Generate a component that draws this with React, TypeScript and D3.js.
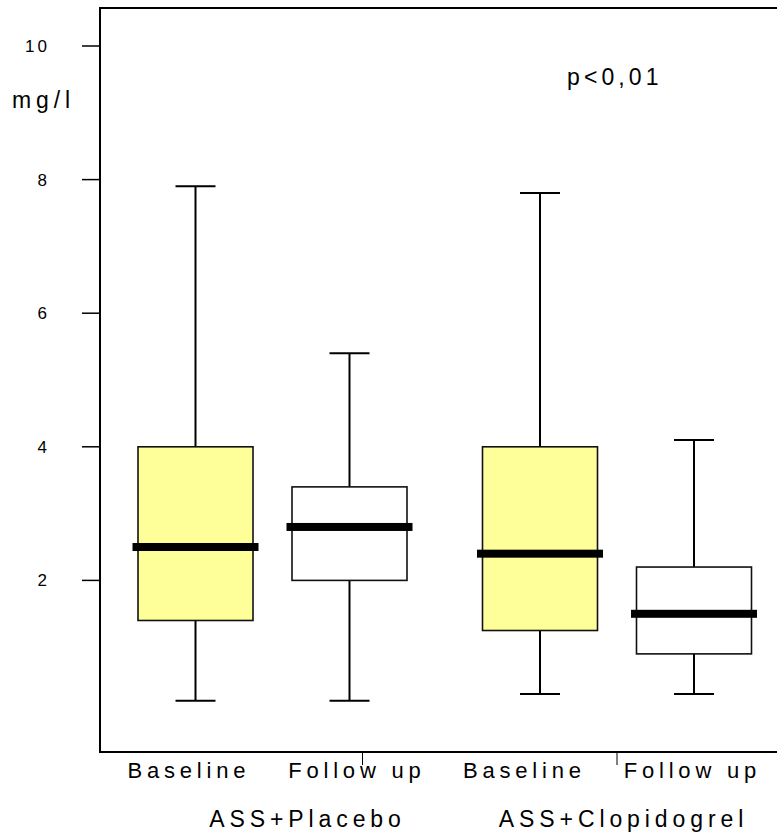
import React from "react";
import * as d3 from "d3";

const groups = ["ASS+Placebo", "ASS+Clopidogrel"];
const timepoints = ["Baseline", "Follow up"];
// order: Placebo Baseline, Placebo Follow up, Clopidogrel Baseline, Clopidogrel Follow up
const whiskerLow = [0.2, 0.2, 0.3, 0.3];
const q1 = [1.4, 2.0, 1.25, 0.9];
const median = [2.5, 2.8, 2.4, 1.5];
const q3 = [4.0, 3.4, 4.0, 2.2];
const whiskerHigh = [7.9, 5.4, 7.8, 4.1];
const fills = ["#FFFF99", "#FFFFFF"];
const yTicks = [2, 4, 6, 8, 10];
const yLabel = "mg/l";
const annotation = "p<0,01";

const W = 777;
const H = 834;
const FONT = "'Liberation Sans', Arial, Helvetica, sans-serif";

export default function App() {
  const left = 100;
  const top = 8;
  const bottom = 752;
  const right = 777;

  const y = d3.scaleLinear().domain([0, 10]).range([714, 46]);
  const gx = d3.scalePoint<string>().domain(groups).range([272.5, 617]);
  const ix = d3.scalePoint<string>().domain(timepoints).range([-77, 77]);
  // label placement scales
  const lgx = d3.scalePoint<string>().domain(groups).range([270.5, 606]);
  const lix = d3.scalePoint<string>().domain(timepoints).range([-84, 84]);
  const ggx = d3.scalePoint<string>().domain(groups).range([305, 621]);

  const boxW = 115;
  const medW = 126;
  const capW = 40;

  const boxes = groups.flatMap((g, gi) =>
    timepoints.map((t, ti) => {
      const i = gi * timepoints.length + ti;
      return {
        g,
        t,
        cx: (gx(g) as number) + (ix(t) as number),
        lx: (lgx(g) as number) + (lix(t) as number),
        lo: whiskerLow[i],
        q1: q1[i],
        med: median[i],
        q3: q3[i],
        hi: whiskerHigh[i],
        fill: fills[ti],
      };
    })
  );

  const axisMarks = [boxes[1].cx + 13, gx(groups[1]) as number];

  return (
    <svg
      width={W}
      height={H}
      style={{ position: "absolute", left: 0, top: 0, background: "#fff" }}
      fontFamily={FONT}
    >
      <rect x={0} y={0} width={W} height={H} fill="#fff" />
      {/* frame */}
      <line x1={left} y1={top} x2={right} y2={top} stroke="#000" strokeWidth={2} />
      <line x1={left} y1={top - 1} x2={left} y2={bottom + 1} stroke="#000" strokeWidth={2} />
      <line x1={left} y1={bottom} x2={right} y2={bottom} stroke="#000" strokeWidth={2} />

      {/* y ticks */}
      {yTicks.map((v) => (
        <g key={v}>
          <line x1={82} y1={y(v)} x2={left} y2={y(v)} stroke="#000" strokeWidth={1.5} />
          <text
            x={50}
            y={y(v)}
            dy="0.35em"
            textAnchor="end"
            fontSize={17}
            letterSpacing={3}
            fill="#000"
          >
            {v}
          </text>
        </g>
      ))}
      <text x={12} y={108} fontSize={23} letterSpacing={4.9} fill="#000">
        {yLabel}
      </text>
      <text x={567} y={85} fontSize={23} letterSpacing={4.1} fill="#000">
        {annotation}
      </text>

      {/* boxes */}
      {boxes.map((b, i) => (
        <g key={i}>
          <line x1={b.cx} y1={y(b.hi)} x2={b.cx} y2={y(b.lo)} stroke="#000" strokeWidth={2} />
          <line x1={b.cx - capW / 2} y1={y(b.hi)} x2={b.cx + capW / 2} y2={y(b.hi)} stroke="#000" strokeWidth={2} />
          <line x1={b.cx - capW / 2} y1={y(b.lo)} x2={b.cx + capW / 2} y2={y(b.lo)} stroke="#000" strokeWidth={2} />
          <rect
            x={b.cx - boxW / 2}
            y={y(b.q3)}
            width={boxW}
            height={y(b.q1) - y(b.q3)}
            fill={b.fill}
            stroke="#111"
            strokeWidth={1.6}
          />
          <rect
            x={b.cx - medW / 2}
            y={y(b.med) - 4}
            width={medW}
            height={8}
            fill="#000"
          />
          <text
            x={b.lx + 2.4}
            y={778}
            textAnchor="middle"
            fontSize={22}
            letterSpacing={4.8}
            fill="#000"
          >
            {b.t}
          </text>
        </g>
      ))}

      {axisMarks.map((mx, i) => (
        <line key={i} x1={mx} y1={bottom} x2={mx} y2={765} stroke="#000" strokeWidth={1} />
      ))}

      {groups.map((g) => (
        <text
          key={g}
          x={(ggx(g) as number) + 2.5}
          y={827}
          textAnchor="middle"
          fontSize={23}
          letterSpacing={4.9}
          fill="#000"
        >
          {g}
        </text>
      ))}
    </svg>
  );
}
